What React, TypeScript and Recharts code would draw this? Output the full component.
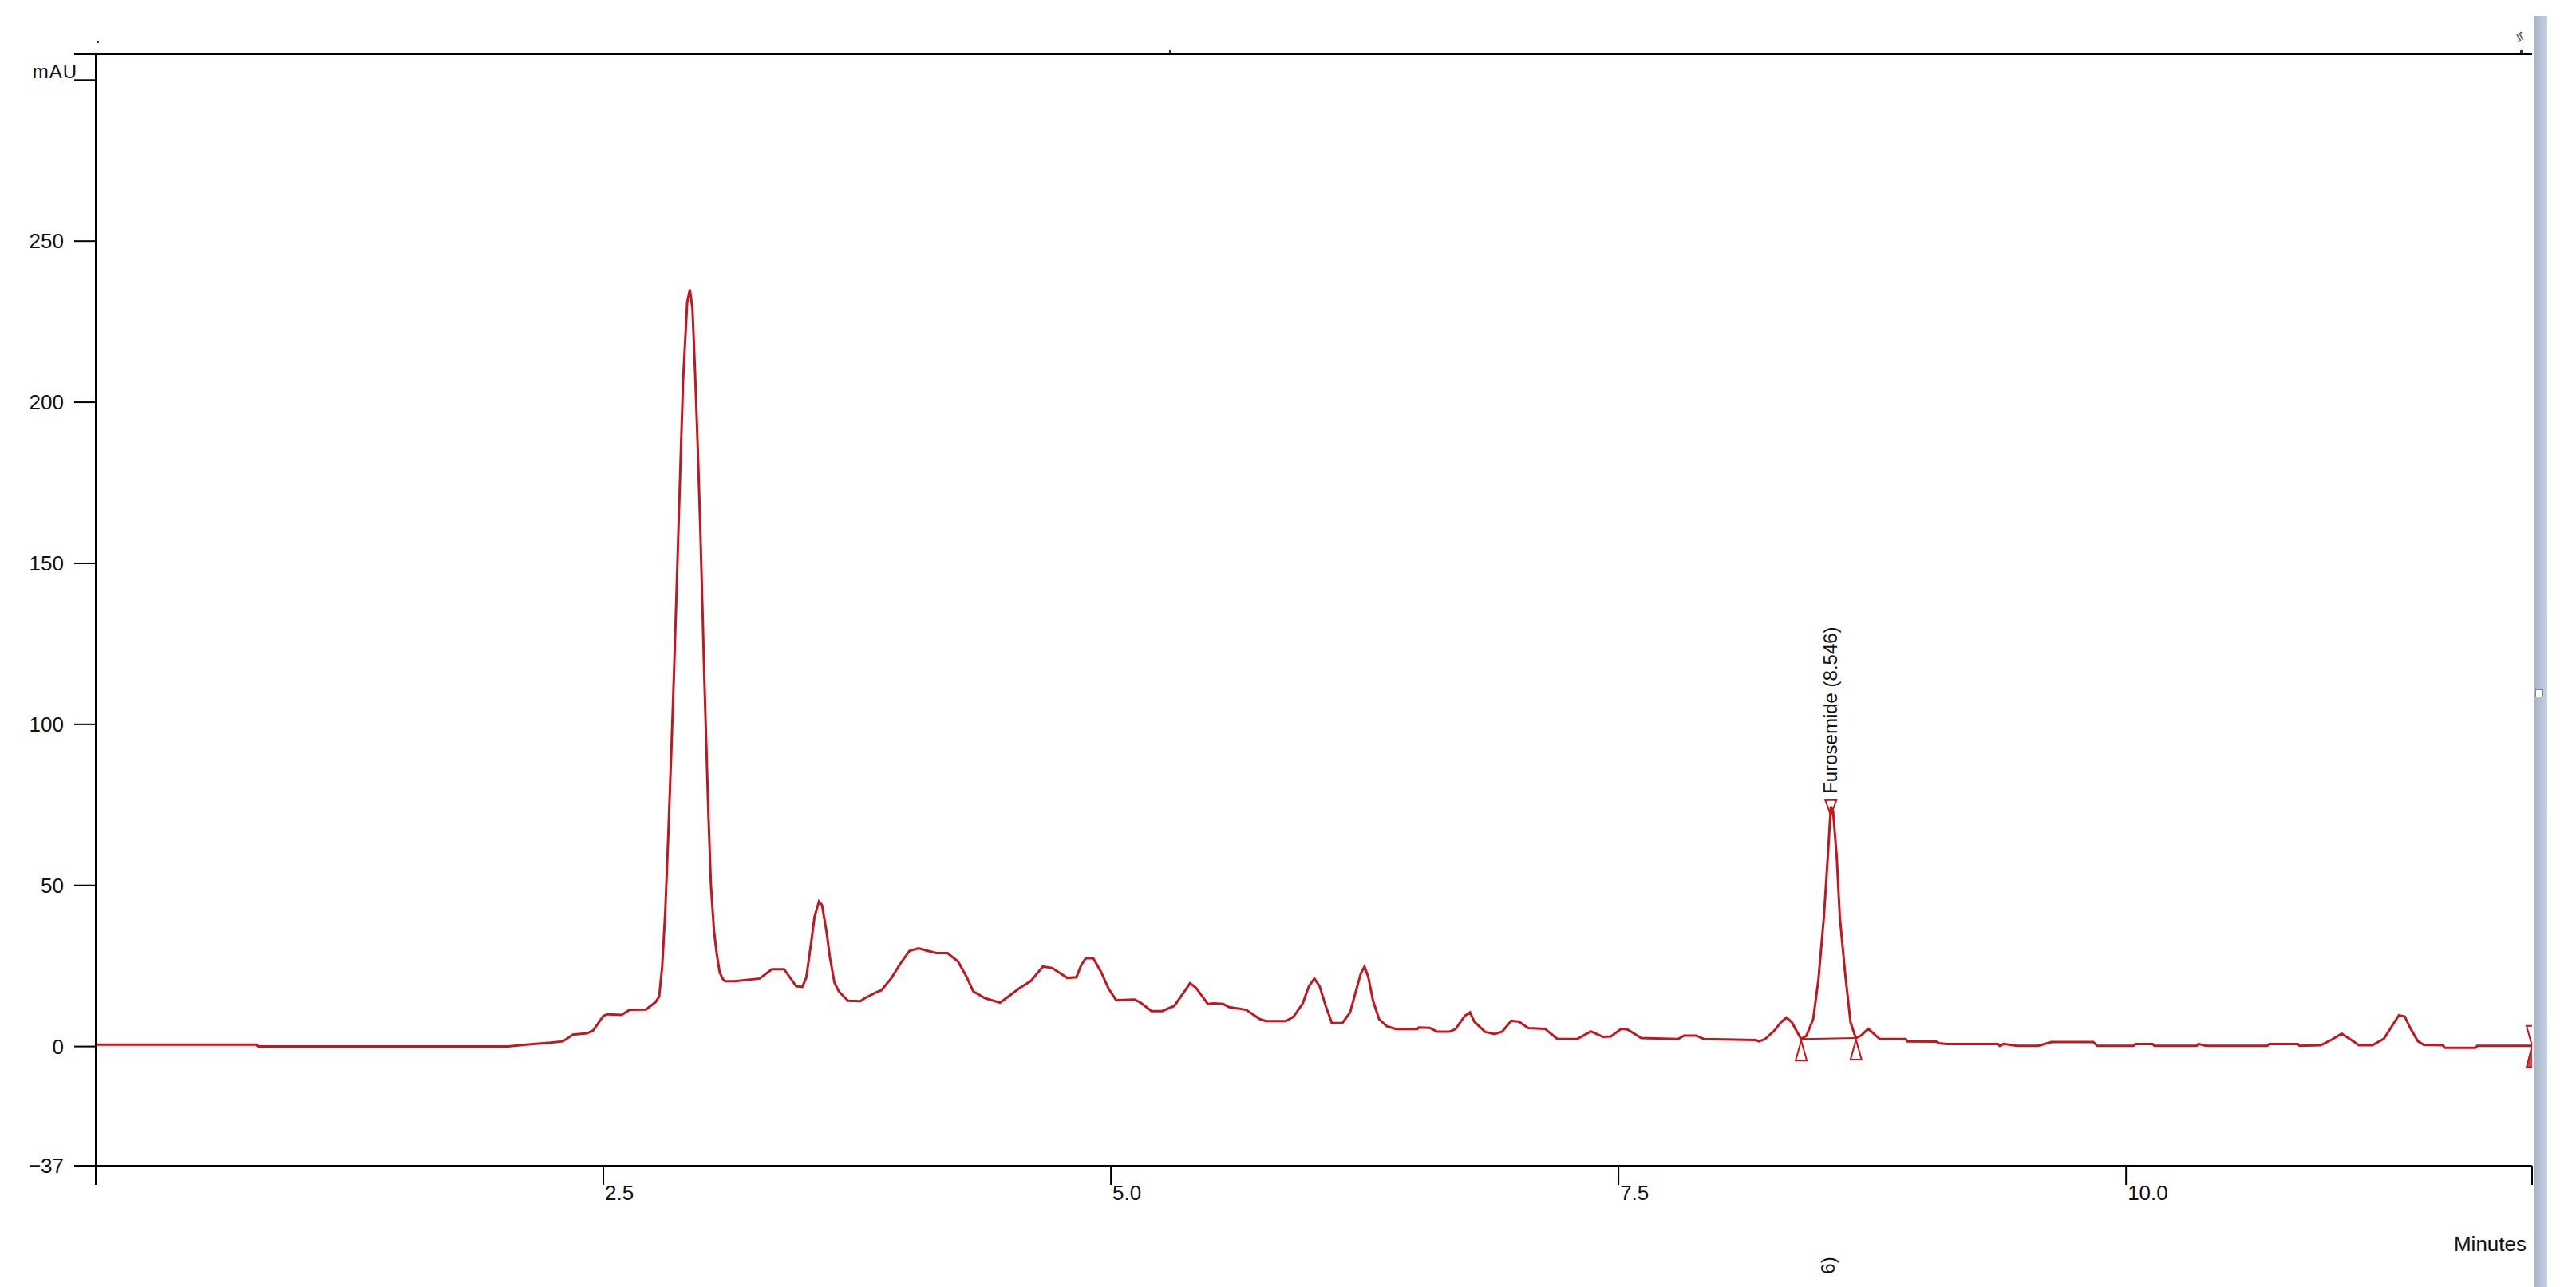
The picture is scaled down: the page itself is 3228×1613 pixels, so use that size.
import { ComposedChart, Line, Scatter, XAxis, YAxis, ReferenceLine } from "recharts"

// chromatogram trace (minutes / mAU)
const TIME = [
  0, 0.79, 0.8, 2.03, 2.12, 2.24, 2.3, 2.35, 2.42, 2.45, 2.5, 2.52, 2.59, 2.63, 2.71, 2.757, 2.775,
  2.79, 2.805, 2.82, 2.835, 2.847, 2.86, 2.873, 2.893, 2.913, 2.926, 2.939, 2.952, 2.965, 2.978,
  2.998, 3.017, 3.03, 3.045, 3.058, 3.073, 3.088, 3.1, 3.148, 3.27, 3.33, 3.39, 3.45, 3.48, 3.5,
  3.525, 3.54, 3.562, 3.577, 3.6, 3.615, 3.638, 3.66, 3.705, 3.766, 3.788, 3.84, 3.87, 3.917, 3.97,
  4.008, 4.052, 4.098, 4.14, 4.195, 4.247, 4.29, 4.322, 4.38, 4.454, 4.484, 4.545, 4.605, 4.665,
  4.71, 4.785, 4.83, 4.853, 4.876, 4.913, 4.951, 4.989, 5.026, 5.117, 5.147, 5.2, 5.252, 5.312,
  5.358, 5.39, 5.418, 5.478, 5.508, 5.553, 5.583, 5.666, 5.734, 5.764, 5.862, 5.9, 5.945, 5.975,
  6.002, 6.028, 6.058, 6.088, 6.14, 6.178, 6.208, 6.231, 6.249, 6.268, 6.291, 6.321, 6.359, 6.404,
  6.509, 6.517, 6.57, 6.607, 6.667, 6.697, 6.743, 6.769, 6.79, 6.844, 6.89, 6.927, 6.972, 7.01,
  7.055, 7.138, 7.198, 7.296, 7.364, 7.424, 7.462, 7.514, 7.544, 7.612, 7.793, 7.823, 7.883, 7.921,
  8.177, 8.192, 8.222, 8.267, 8.3, 8.327, 8.354, 8.38, 8.4, 8.425, 8.459, 8.485, 8.512, 8.531,
  8.546, 8.557, 8.575, 8.59, 8.616, 8.643, 8.669, 8.695, 8.73, 8.787, 8.915, 8.922, 9.065, 9.08,
  9.115, 9.369, 9.378, 9.397, 9.463, 9.567, 9.632, 9.839, 9.858, 10.037, 10.046, 10.131, 10.14,
  10.347, 10.357, 10.394, 10.695, 10.705, 10.846, 10.855, 10.959, 11.015, 11.062, 11.11, 11.147,
  11.213, 11.27, 11.307, 11.344, 11.373, 11.4, 11.438, 11.467, 11.56, 11.57, 11.72, 11.73, 12,
]
const MAU = [
  0.6, 0.6, 0, 0, 0.6, 1.2, 1.6, 3.7, 4.1, 5, 9.5, 10, 9.8, 11.4, 11.5, 13.8, 15.5,
  25, 42, 66, 92, 114, 140, 167, 207, 231, 235, 229, 209, 186, 160,
  113, 73, 50, 36, 29, 23, 21, 20.3, 20.3, 21.1, 24, 24, 18.7, 18.5, 21.5,
  32.9, 40.2, 45, 43.9, 35.4, 28, 19.9, 17.1, 14.2, 14.1, 15, 16.7, 17.5, 21.1, 26.4,
  29.7, 30.5, 29.7, 29, 29, 26.4, 21.5, 17.1, 15, 13.6, 15, 17.9, 20.3, 24.8,
  24.4, 21.3, 21.5, 25.2, 27.4, 27.4, 23.2, 17.9, 14.4, 14.6, 13.6, 11, 11, 12.6,
  16.7, 19.7, 18.3, 13.2, 13.4, 13.2, 12.2, 11.4, 8.5, 7.9, 7.9, 9.3, 13.4, 18.7,
  21.1, 18.7, 12.6, 7.3, 7.3, 10.6, 17.5, 22.7, 24.8, 21.5, 14.2, 8.5, 6.3, 5.4,
  5.4, 5.9, 5.8, 4.6, 4.6, 5.4, 9.5, 10.6, 7.7, 4.5, 3.9, 4.6, 8, 7.7,
  5.7, 5.5, 2.4, 2.3, 4.7, 3, 3.1, 5.5, 5.3, 2.6, 2.3, 3.4, 3.4, 2.3,
  2, 1.6, 2.3, 4.9, 7.5, 9, 7.5, 4.5, 2.3, 3.3, 8.5, 20.9, 40.4, 58.9,
  74.5, 73, 58.9, 40.4, 22.9, 7.5, 2.6, 3.4, 5.5, 2.3, 2.3, 1.6, 1.5, 1,
  0.8, 0.8, 0.2, 0.8, 0.2, 0.2, 1.4, 1.4, 0.2, 0.2, 0.8, 0.8, 0.2,
  0.2, 0.8, 0.2, 0.2, 0.8, 0.8, 0.2, 0.4, 2.2, 4, 2, 0.4,
  0.4, 2.4, 6.1, 9.7, 9.3, 5.7, 1.6, 0.5, 0.4, -0.4, -0.4, 0.2, 0.2,
]

const X_TICKS = [0, 2.5, 5, 7.5, 10, 12]
const X_LABELS = ["", "2.5", "5.0", "7.5", "10.0", ""]
const Y_TICKS = [-37, 0, 50, 100, 150, 200, 250, 300, 308]
const Y_LABELS = ["\u221237", "0", "50", "100", "150", "200", "250", "mAU", ""]

const PEAK_NAME = "Furosemide (8.546)"
const PEAK_APEX = [{ t: 8.546, v: 74.5 }]
const PEAK_BOUNDS = [{ t: 8.4, v: 2.3 }, { t: 8.67, v: 2.6 }]
const END_MARK = [{ t: 12, v: 0.2 }]
const INTEGRATION_BASE = [{ t: 8.4, v: 2.3 }, { t: 8.67, v: 2.6 }]

const RED = "#c4161c"
const FONT = "'Liberation Sans', Arial, sans-serif"

const trace = TIME.map((t, i) => ({ t, v: MAU[i] }))

function YTick(props: any) {
  const { x, y, payload } = props
  const idx = Y_TICKS.indexOf(payload.value)
  const label = Y_LABELS[idx]
  if (!label) return null
  if (label === "mAU") {
    return (
      <text x={x + 17} y={y - 2} textAnchor="end" fontSize={24} fontFamily={FONT} fill="#111" letterSpacing={1}>
        {label}
      </text>
    )
  }
  return (
    <text x={x} y={y} dy={9} textAnchor="end" fontSize={26} fontFamily={FONT} fill="#111">
      {label}
    </text>
  )
}

function XTick(props: any) {
  const { x, y, payload } = props
  const label = X_LABELS[X_TICKS.indexOf(payload.value)]
  if (!label) return null
  return (
    <text x={x + 2} y={y + 19} textAnchor="start" fontSize={26} fontFamily={FONT} fill="#111">
      {label}
    </text>
  )
}

function MinutesLabel(props: any) {
  const vb = props.viewBox || { x: 0, y: 0, width: 0, height: 0 }
  return (
    <text x={vb.x + vb.width - 7} y={vb.y + 107} textAnchor="end" fontSize={26} fontFamily={FONT} fill="#111">
      Minutes
    </text>
  )
}

function ApexMark(props: any) {
  const { cx, cy } = props
  return (
    <g>
      <path d={`M${cx - 7},${cy - 8} L${cx + 7},${cy - 8} L${cx},${cy + 11} Z`} fill="none" stroke={RED} strokeWidth={2} />
      <text
        x={cx + 8}
        y={cy - 16}
        transform={`rotate(-90 ${cx + 8} ${cy - 16})`}
        fontSize={24}
        fontFamily={FONT}
        fill="#111"
      >
        {PEAK_NAME}
      </text>
    </g>
  )
}

function BoundMark(props: any) {
  const { cx, cy } = props
  return (
    <path d={`M${cx},${cy + 2} L${cx + 7},${cy + 27} L${cx - 7},${cy + 27} Z`} fill="none" stroke={RED} strokeWidth={2} />
  )
}

function EndMarkShape(props: any) {
  const { cx, cy } = props
  return (
    <g>
      <path d={`M${cx - 7},${cy - 25} L${cx + 7},${cy - 25} L${cx},${cy} Z`} fill="none" stroke={RED} strokeWidth={2} />
      <path d={`M${cx},${cy} L${cx + 7},${cy + 27} L${cx - 7},${cy + 27} Z`} fill={RED} fillOpacity={0.8} stroke={RED} strokeWidth={2} />
    </g>
  )
}

export default function App() {
  return (
    <div
      style={{
        position: "absolute",
        left: 0,
        top: 0,
        width: 3228,
        height: 1613,
        overflow: "hidden",
        background: "#fff",
      }}
    >
      <ComposedChart width={3228} height={1613} margin={{ top: 68, right: 55, bottom: 92, left: 0 }}>
        <XAxis
          type="number"
          dataKey="t"
          domain={[0, 12]}
          ticks={X_TICKS}
          interval={0}
          height={60}
          tickSize={24}
          tickMargin={0}
          tick={<XTick />}
          axisLine={{ stroke: "#000", strokeWidth: 2 }}
          tickLine={{ stroke: "#000", strokeWidth: 2 }}
          label={<MinutesLabel />}
          allowDataOverflow
        />
        <YAxis
          type="number"
          domain={[-37, 308]}
          ticks={Y_TICKS}
          interval={0}
          width={120}
          tickSize={27}
          tickMargin={13}
          tick={<YTick />}
          axisLine={{ stroke: "#000", strokeWidth: 2 }}
          tickLine={{ stroke: "#000", strokeWidth: 2 }}
          allowDataOverflow
        />
        <ReferenceLine y={308} stroke="#000" strokeWidth={2} />
        <Line
          data={trace}
          dataKey="v"
          type="linear"
          stroke={RED}
          strokeWidth={3}
          dot={false}
          isAnimationActive={false}
        />
        <Line
          data={INTEGRATION_BASE}
          dataKey="v"
          type="linear"
          stroke={RED}
          strokeWidth={2}
          dot={false}
          isAnimationActive={false}
        />
        <Scatter data={PEAK_APEX} dataKey="v" shape={<ApexMark />} isAnimationActive={false} />
        <Scatter data={PEAK_BOUNDS} dataKey="v" shape={<BoundMark />} isAnimationActive={false} />
        <Scatter data={END_MARK} dataKey="v" shape={<EndMarkShape />} isAnimationActive={false} />
      </ComposedChart>

      {/* window chrome bits around the plot */}
      <div style={{ position: "absolute", left: 121, top: 51, width: 3, height: 3, background: "#333" }} />
      <div style={{ position: "absolute", left: 1465, top: 63, width: 2, height: 4, background: "#333" }} />
      <div style={{ position: "absolute", left: 3158, top: 63, width: 3, height: 3, background: "#333" }} />
      <div
        style={{
          position: "absolute",
          left: 3152,
          top: 36,
          fontSize: 16,
          fontFamily: FONT,
          color: "#444",
          transform: "rotate(60deg)",
        }}
      >
        ≒
      </div>
      <div
        style={{
          position: "absolute",
          left: 3175,
          top: 20,
          width: 17,
          height: 1593,
          background: "linear-gradient(to right, #a6b2c8, #c6d0e1)",
        }}
      />
      <div
        style={{
          position: "absolute",
          left: 3177,
          top: 864,
          width: 8,
          height: 8,
          background: "#fff",
          border: "1px solid #7d879b",
        }}
      />
      <div
        style={{
          position: "absolute",
          left: 2280,
          top: 1572,
          fontSize: 24,
          fontFamily: FONT,
          color: "#111",
          transform: "rotate(-90deg)",
          transformOrigin: "center",
        }}
      >
        6)
      </div>
    </div>
  )
}
